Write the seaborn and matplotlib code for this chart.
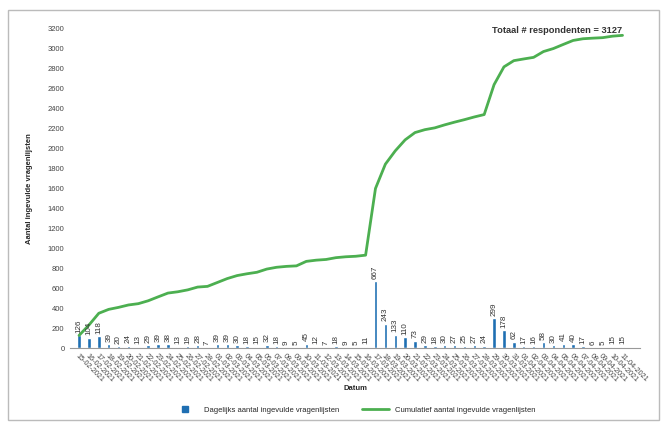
import seaborn as sns
import matplotlib.pyplot as plt
import matplotlib.patches as mpatches
from matplotlib.lines import Line2D
import numpy as np
import pandas as pd

# daily counts
daily = [126, 104, 118, 39, 20, 24, 13, 29, 39, 38, 13, 19, 28, 7, 39, 39, 30, 18,
         15, 32, 18, 9, 5, 45, 12, 7, 18, 9, 5, 11, 667, 243, 133, 110, 73, 29,
         18, 30, 27, 25, 27, 24, 299, 178, 62, 17, 16, 58, 30, 41, 40, 17, 6, 5, 15, 15]
cumulative = [126, 230, 348, 387, 407, 431, 444, 473, 512, 550, 563, 582, 610, 617,
              656, 695, 725, 743, 758, 790, 808, 817, 822, 867, 879, 886, 904, 913,
              918, 929, 1596, 1839, 1972, 2082, 2155, 2184, 2202, 2232, 2259, 2284,
              2311, 2335, 2634, 2812, 2874, 2891, 2907, 2965, 2995, 3036, 3076, 3093,
              3099, 3104, 3119, 3127]
dates = pd.date_range("2021-02-15", periods=len(daily)).strftime("%d-%m-%Y").tolist()

df = pd.DataFrame({"Datum": dates, "Dagelijks": daily, "Cumulatief": cumulative})
df["pos"] = np.arange(len(df))

sns.set_theme(style="white")
plt.rcParams['font.family'] = ['Liberation Sans', 'DejaVu Sans']

fig = plt.figure(figsize=(6.67, 4.25), dpi=100)
ax = fig.add_axes([0.105, 0.181, 0.855, 0.753])

blue = "#1f6fb2"
green = "#4caf50"

sns.barplot(x="Datum", y="Dagelijks", data=df, color=blue, width=0.35,
            saturation=1, ax=ax)
sns.lineplot(x="pos", y="Cumulatief", data=df, color=green, linewidth=2, ax=ax)

for i, v in enumerate(daily):
    ax.text(i, v + 25, str(v), rotation=90, ha='center', va='bottom',
            fontsize=5.8, color='#333333')

ax.set_ylim(0, 3200)
ax.set_yticks(range(0, 3201, 200))
ax.set_xlim(-0.91, 56.8)
ax.set_xticks(range(len(daily)))
ax.set_xticklabels(dates, rotation=-45, ha='left', rotation_mode='anchor',
                   fontsize=5.2, color='#444444')
ax.tick_params(axis='y', labelsize=5.5, colors='#444444', length=0, pad=4)
ax.tick_params(axis='x', length=0, pad=3)

ax.set_xlabel("Datum", fontsize=5.5, fontweight='bold')
ax.xaxis.set_label_coords(0.5, -0.115)
ax.set_ylabel("Aantal ingevulde vragenlijsten", fontsize=5.5, fontweight='bold')
ax.yaxis.set_label_coords(-0.065, 0.5)

sns.despine(ax=ax, left=True, top=True, right=True)
ax.spines['bottom'].set_color('#999999')
ax.spines['bottom'].set_linewidth(0.8)

ax.text(len(daily) - 1, 3175, "Totaal # respondenten = 3127",
        ha='right', va='center', fontsize=6.7, fontweight='bold', color='#333333')

handles = [Line2D([], [], marker='s', linestyle='none', color=blue, markersize=5),
           Line2D([], [], color=green, linewidth=2)]
fig.legend(handles, ["Dagelijks aantal ingevulde vragenlijsten",
                     "Cumulatief aantal ingevulde vragenlijsten"],
           loc='center', bbox_to_anchor=(0.53, 0.035), ncol=2, frameon=False,
           fontsize=5.5, handlelength=3.5, columnspacing=3)

fig.patches.append(mpatches.Rectangle((0.012, 0.012), 0.976, 0.965, transform=fig.transFigure,
                                      fill=False, edgecolor='#bbbbbb', linewidth=1))

fig.savefig("out.png", dpi=100)
